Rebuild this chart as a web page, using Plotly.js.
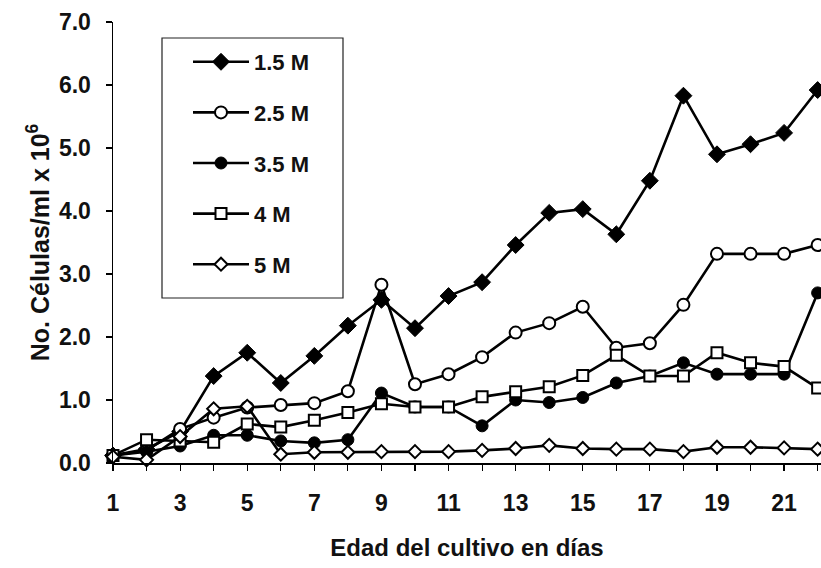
<!DOCTYPE html>
<html>
<head>
<meta charset="utf-8">
<script src="https://cdn.plot.ly/plotly-3.0.1.min.js"></script>
<style>
  html, body { margin: 0; padding: 0; background: #fff; }
  #chart { width: 821px; height: 568px; }
</style>
</head>
<body>
<div id="chart"></div>
<script>
const days = [1,2,3,4,5,6,7,8,9,10,11,12,13,14,15,16,17,18,19,20,21,22];
const tickDays = [1,3,5,7,9,11,13,15,17,19,21];
const tickLabels = ["1","3","5","7","9","11","13","15","17","19","21"];
const seriesNames = ["1.5 M", "2.5 M", "3.5 M", "4 M", "5 M"];
const s15 = [0.12,0.22,0.50,1.38,1.75,1.27,1.70,2.18,2.59,2.14,2.65,2.87,3.46,3.97,4.03,3.63,4.48,5.83,4.90,5.06,5.24,5.92];
const s25 = [0.12,0.20,0.54,0.72,0.88,0.92,0.95,1.14,2.83,1.25,1.41,1.68,2.07,2.22,2.48,1.83,1.90,2.51,3.32,3.32,3.32,3.46];
const s35 = [0.12,0.18,0.27,0.44,0.44,0.35,0.32,0.37,1.11,0.89,0.89,0.59,1.00,0.96,1.04,1.27,1.38,1.59,1.41,1.41,1.41,2.70];
const s4  = [0.12,0.37,0.35,0.33,0.62,0.57,0.68,0.80,0.94,0.89,0.89,1.05,1.13,1.21,1.39,1.71,1.38,1.38,1.75,1.59,1.53,1.19];
const s5  = [0.10,0.05,0.42,0.86,0.90,0.14,0.17,0.17,0.18,0.18,0.18,0.20,0.23,0.28,0.23,0.22,0.22,0.18,0.25,0.25,0.24,0.22];

const FONT = "Liberation Sans, Arial, sans-serif";
const markers = [
  {symbol: "diamond", size: 13, color: "#000", line: {color: "#000", width: 1}},
  {symbol: "circle", size: 12, color: "#fff", line: {color: "#000", width: 2}},
  {symbol: "circle", size: 12, color: "#000", line: {color: "#000", width: 1}},
  {symbol: "square", size: 11, color: "#fff", line: {color: "#000", width: 2}},
  {symbol: "diamond", size: 10, color: "#fff", line: {color: "#000", width: 2}}
];
const values = [s15, s25, s35, s4, s5];

const traces = values.map((v, i) => ({
  x: days, y: v, type: "scatter", mode: "lines+markers",
  name: seriesNames[i], legendgroup: "g" + i,
  line: {color: "#000", width: 2.6},
  marker: markers[i],
  cliponaxis: false
}));

const L = 113, T = 22, W = 708, H = 441;
const px = x => (x - L) / W;
const py = y => (T + H - y) / H;

const layout = {
  width: 821, height: 568,
  margin: {l: L, r: 821 - L - W, t: T, b: 568 - T - H},
  paper_bgcolor: "#fff", plot_bgcolor: "#fff",
  font: {family: FONT, color: "#111", size: 21, weight: "bold"},
  showlegend: true,
  legend: {
    x: px(188), y: py(41), xanchor: "left", yanchor: "top",
    bgcolor: "rgba(0,0,0,0)", borderwidth: 0,
    font: {family: FONT, size: 22, color: "#111", weight: "bold"},
    tracegroupgap: 19, itemwidth: 56, traceorder: "grouped"
  },
  shapes: [{
    type: "rect", xref: "paper", yref: "paper",
    x0: px(162), x1: px(343), y0: py(38), y1: py(298),
    line: {color: "#222", width: 1.2}, fillcolor: "#fff", layer: "below"
  }],
  xaxis: {
    range: [1, 22.1], tickmode: "array", tickvals: tickDays, ticktext: tickLabels,
    showgrid: false, zeroline: false, showline: true, linecolor: "#000", linewidth: 1.5,
    ticks: "outside", ticklen: 6, tickcolor: "#000", tickwidth: 1.2,
    minor: {tickmode: "linear", tick0: 0, dtick: 1, ticks: "outside", ticklen: 6, tickcolor: "#000", tickwidth: 1.2, showgrid: false},
    ticklabelstandoff: 13,
    tickfont: {family: FONT, size: 23, color: "#111", weight: "bold"},
    title: {text: "Edad del cultivo en días", font: {family: FONT, size: 24, color: "#111", weight: "bold"}, standoff: 24}
  },
  yaxis: {
    range: [0, 7], dtick: 1, tickformat: ".1f",
    showgrid: false, zeroline: false, showline: true, linecolor: "#000", linewidth: 1.5,
    ticks: "outside", ticklen: 6, tickcolor: "#000", tickwidth: 1.2,
    ticklabelstandoff: 10,
    tickfont: {family: FONT, size: 23, color: "#111", weight: "bold"},
    title: {text: "No. Células/ml x 10<sup>6</sup>", font: {family: FONT, size: 25, color: "#111", weight: "bold"}, standoff: 2}
  }
};

Plotly.newPlot("chart", traces, layout, {displayModeBar: false, staticPlot: true});
</script>
</body>
</html>
